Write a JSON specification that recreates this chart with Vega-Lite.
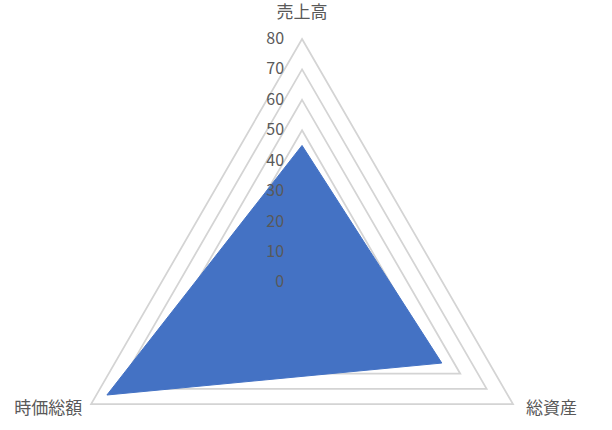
{
  "$schema": "https://vega.github.io/schema/vega-lite/v6.json",
  "width": 612,
  "height": 430,
  "autosize": {"type": "fit", "contains": "padding"},
  "padding": 0,
  "background": "white",
  "config": {"view": {"stroke": null}, "font": "Noto Sans CJK JP"},
  "datasets": {
    "scores": [
      {"category": "売上高", "order": 0, "value": 45},
      {"category": "総資産", "order": 1, "value": 53},
      {"category": "時価総額", "order": 2, "value": 74}
    ],
    "levels": [
      {"level": 0}, {"level": 10}, {"level": 20}, {"level": 30}, {"level": 40},
      {"level": 50}, {"level": 60}, {"level": 70}, {"level": 80}
    ]
  },
  "layer": [
    {
      "data": {"name": "levels"},
      "transform": [
        {"filter": "datum.level > 0"},
        {"calculate": "[0, 1, 2]", "as": "k"},
        {"flatten": ["k"]},
        {"calculate": "datum.k * 2 * PI / 3", "as": "a"},
        {"calculate": "datum.level * sin(datum.a)", "as": "x"},
        {"calculate": "datum.level * cos(datum.a)", "as": "y"}
      ],
      "mark": {"type": "line", "interpolate": "linear-closed", "stroke": "#d4d4d4", "strokeWidth": 1.75},
      "encoding": {
        "x": {"field": "x", "type": "quantitative", "scale": {"domain": [-99.2, 101.8], "nice": false, "zero": false}, "axis": null},
        "y": {"field": "y", "type": "quantitative", "scale": {"domain": [-48.5, 92.8], "nice": false, "zero": false}, "axis": null},
        "detail": {"field": "level", "type": "nominal"},
        "order": {"field": "k", "type": "quantitative"}
      }
    },
    {
      "data": {"name": "scores"},
      "transform": [
        {"calculate": "datum.order * 2 * PI / 3", "as": "a"},
        {"calculate": "datum.value * sin(datum.a)", "as": "x"},
        {"calculate": "datum.value * cos(datum.a)", "as": "y"}
      ],
      "mark": {"type": "line", "interpolate": "linear-closed", "fill": "#4472c4", "stroke": "#4472c4", "strokeWidth": 1},
      "encoding": {
        "x": {"field": "x", "type": "quantitative", "axis": null},
        "y": {"field": "y", "type": "quantitative", "axis": null},
        "order": {"field": "order", "type": "quantitative"}
      }
    },
    {
      "data": {"name": "levels"},
      "mark": {"type": "text", "align": "right", "baseline": "middle", "dx": -18, "fontSize": 16, "color": "#595959"},
      "encoding": {
        "x": {"datum": 0, "type": "quantitative"},
        "y": {"field": "level", "type": "quantitative"},
        "text": {"field": "level", "type": "quantitative"}
      }
    },
    {
      "data": {"name": "scores"},
      "transform": [
        {"calculate": "datum.order * 2 * PI / 3", "as": "a"},
        {"calculate": "80 * sin(datum.a) + (sin(datum.a) > 0.1 ? 4 + length(datum.category) * 2.87 : sin(datum.a) < -0.1 ? -(2.6 + length(datum.category) * 2.87) : 0)", "as": "lx"},
        {"calculate": "80 * cos(datum.a) + (cos(datum.a) > 0.5 ? 8.4 : -1.5)", "as": "ly"}
      ],
      "mark": {"type": "text", "align": "center", "baseline": "middle", "fontSize": 17, "color": "#595959"},
      "encoding": {
        "x": {"field": "lx", "type": "quantitative"},
        "y": {"field": "ly", "type": "quantitative"},
        "text": {"field": "category", "type": "nominal"}
      }
    }
  ]
}
